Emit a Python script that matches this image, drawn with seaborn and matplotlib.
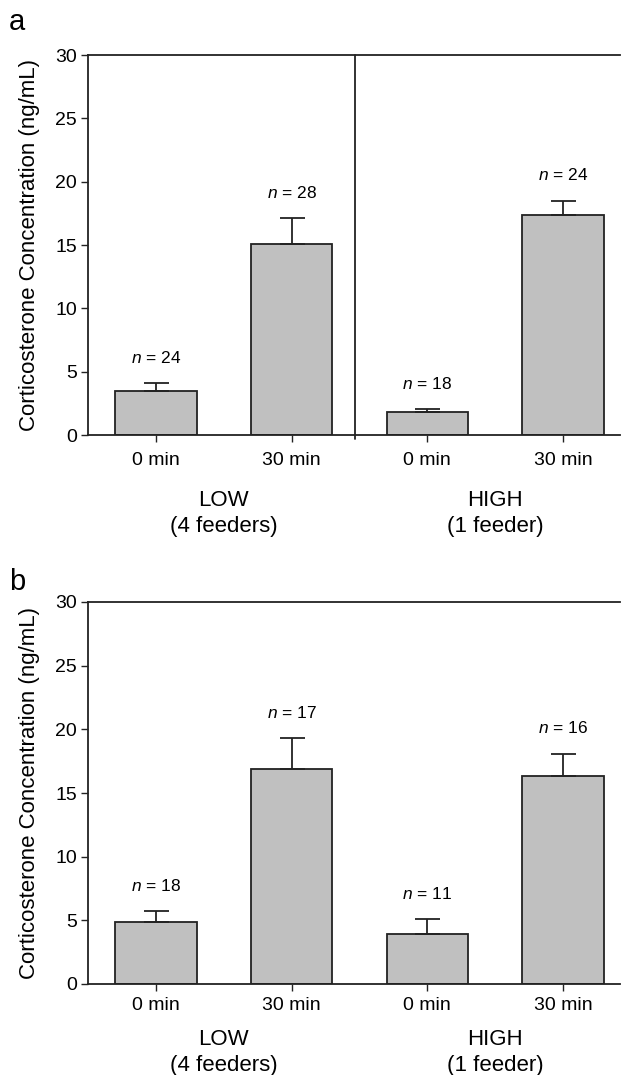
"""
Corticosterone concentration at 0 and 30 min, LOW vs HIGH competition.
Two stacked panels (a, b) drawn with seaborn bars + upper-only SE bars.
"""

import pandas as pd
import matplotlib.pyplot as plt
import seaborn as sns

# ─────────────────────────────────────────────
# DATA
# ─────────────────────────────────────────────
time_labels = ["0 min", "30 min", "0 min", "30 min"]
bar_keys = ["LOW 0", "LOW 30", "HIGH 0", "HIGH 30"]
group_labels = ["LOW\n(4 feeders)", "HIGH\n(1 feeder)"]

a_means = [3.5, 15.1, 1.8, 17.4]
a_errors = [0.6, 2.0, 0.25, 1.1]
a_n = [24, 28, 18, 24]

b_means = [4.9, 16.9, 3.95, 16.3]
b_errors = [0.8, 2.4, 1.15, 1.8]
b_n = [18, 17, 11, 16]

y_ticks = [0, 5, 10, 15, 20, 25, 30]

# ─────────────────────────────────────────────
# STYLE
# ─────────────────────────────────────────────
sns.set_theme(style="ticks")
plt.rcParams["font.family"] = ["Liberation Sans", "DejaVu Sans"]
plt.rcParams["text.color"] = "black"
plt.rcParams["axes.labelcolor"] = "black"
plt.rcParams["xtick.color"] = "black"
plt.rcParams["ytick.color"] = "black"
plt.rcParams["mathtext.fontset"] = "custom"
plt.rcParams["mathtext.it"] = "Liberation Sans:italic"

BAR_COLOR = "#c0c0c0"
EDGE = "#222222"
W, H = 621, 1075


def draw_panel(ax, means, errors, ns, letter, letter_y,
               tick_pad, group_gap, divider=False):
    df = pd.DataFrame({"key": bar_keys, "value": means})
    sns.barplot(
        data=df, x="key", y="value", order=bar_keys,
        color=BAR_COLOR, saturation=1, width=0.6,
        edgecolor=EDGE, linewidth=1.3, errorbar=None, ax=ax,
    )
    # upper-only standard error bars
    xs = list(range(len(means)))
    ax.errorbar(
        xs, means, yerr=[[0] * len(errors), errors], fmt="none",
        ecolor=EDGE, elinewidth=1.3, capsize=9, capthick=1.3, zorder=3,
    )
    for x, m, e, n in zip(xs, means, errors, ns):
        ax.text(x, m + e + 2.0, f"$n$ = {n}", ha="center", va="center",
                fontsize=12.5)

    ax.set_xlim(-0.5, 3.42)
    ax.set_ylim(0, 30)
    ax.set_yticks(y_ticks)
    ax.set_xticks(xs)
    ax.set_xticklabels(time_labels, fontsize=14)
    ax.tick_params(axis="y", labelsize=14, length=5, width=1, color=EDGE, pad=3)
    ax.tick_params(axis="x", length=5, width=1, color=EDGE, pad=tick_pad)
    ax.set_xlabel("")
    ax.set_ylabel("Corticosterone Concentration (ng/mL)", fontsize=16)
    ax.yaxis.set_label_coords(-0.09, 0.5)

    for side in ["left", "bottom", "top"]:
        ax.spines[side].set_color(EDGE)
        ax.spines[side].set_linewidth(1.3)
    ax.spines["right"].set_visible(False)

    if divider:
        ax.axvline(1.47, ymin=-0.01, ymax=1, color=EDGE, lw=1.3, clip_on=False)

    # group labels under the tick labels
    ax_h = ax.get_position().height * H
    for i, lab in enumerate(group_labels):
        ax.text(2 * i + 0.5, -group_gap / ax_h, lab,
                transform=ax.get_xaxis_transform(),
                ha="center", va="top", fontsize=16, linespacing=1.3)

    ax.figure.text(0.014, 1 - letter_y / H, letter,
                   fontsize=21, ha="left", va="center")


fig = plt.figure(figsize=(W / 100, H / 100), dpi=100)
ax_a = fig.add_axes([88 / W, 1 - 435 / H, 532 / W, 380 / H])
ax_b = fig.add_axes([88 / W, 1 - 984 / H, 532 / W, 382 / H])

draw_panel(ax_a, a_means, a_errors, a_n, "a", 22, 7, 55, divider=True)
draw_panel(ax_b, b_means, b_errors, b_n, "b", 582, 4, 45)

fig.savefig("out.png", dpi=100, facecolor="white")
